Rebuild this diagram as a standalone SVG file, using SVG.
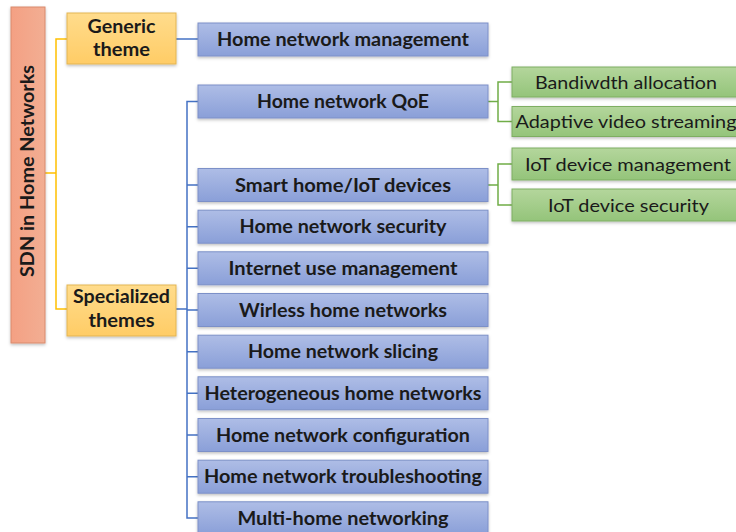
<svg xmlns="http://www.w3.org/2000/svg" width="736" height="532" viewBox="0 0 736 532">
<defs>
<linearGradient id="gBlue" x1="0" y1="0" x2="0" y2="1"><stop offset="0" stop-color="#AEBDE6"/><stop offset="1" stop-color="#8A9FD8"/></linearGradient>
<linearGradient id="gYellow" x1="0" y1="0" x2="0" y2="1"><stop offset="0" stop-color="#FFDC8C"/><stop offset="1" stop-color="#FFCC66"/></linearGradient>
<linearGradient id="gGreen" x1="0" y1="0" x2="0" y2="1"><stop offset="0" stop-color="#B4D69C"/><stop offset="1" stop-color="#94C47A"/></linearGradient>
<linearGradient id="gRoot" x1="0" y1="0" x2="1" y2="0"><stop offset="0" stop-color="#F4A083"/><stop offset="1" stop-color="#F2AE93"/></linearGradient>
<filter id="sh" x="-10%" y="-20%" width="120%" height="150%"><feDropShadow dx="0" dy="1.5" stdDeviation="1.5" flood-color="#000" flood-opacity="0.25"/></filter>
</defs>
<style>
.blue{fill:url(#gBlue);stroke:#7C90C8;stroke-width:1;filter:url(#sh)}
.yel{fill:url(#gYellow);stroke:#E3B552;stroke-width:1;filter:url(#sh)}
.grn{fill:url(#gGreen);stroke:#7EAE62;stroke-width:1;filter:url(#sh)}
.root{fill:url(#gRoot);stroke:#D98A6C;stroke-width:1;filter:url(#sh)}
.tb{font-family:Lato,"Liberation Sans",sans-serif;font-weight:bold;font-size:18px;fill:#1A1A1A;text-anchor:middle}
.tr{font-family:Lato,"Liberation Sans",sans-serif;font-size:18px;fill:#1A1A1A;text-anchor:middle}
.cy{fill:none;stroke:#FFC000;stroke-width:1.5}
.cb{fill:none;stroke:#4472C4;stroke-width:1.5}
.cg{fill:none;stroke:#70AD47;stroke-width:1.5}
</style>
<g id="connectors">
<path class="cy" d="M45 173H56M67 39H56V309H67"/>
<path class="cb" d="M176 39H198"/>
<path class="cb" d="M176 309H187M198 101.5H187V518H198M187 185H198M187 226.7H198M187 268.3H198M187 310H198M187 351.7H198M187 393.3H198M187 435H198M187 476.7H198"/>
<path class="cg" d="M488 101.5H498M512 82H498V121.5H512"/>
<path class="cg" d="M488 185H498M512 164H498V205H512"/>
</g>
<g id="root"><rect class="root" x="11" y="7" width="34" height="336"/>
<text class="tb" transform="translate(34,171) rotate(-90)" textLength="212" lengthAdjust="spacingAndGlyphs">SDN in Home Networks</text></g>
<g id="generic"><rect class="yel" x="67" y="13" width="109" height="51"/>
<text class="tb" x="121.5" y="33" textLength="68" lengthAdjust="spacingAndGlyphs">Generic</text>
<text class="tb" x="121.5" y="56" textLength="57" lengthAdjust="spacingAndGlyphs">theme</text></g>
<g id="specialized"><rect class="yel" x="67" y="285" width="109" height="51"/>
<text class="tb" x="121.5" y="303" textLength="97" lengthAdjust="spacingAndGlyphs">Specialized</text>
<text class="tb" x="121.5" y="327" textLength="66" lengthAdjust="spacingAndGlyphs">themes</text></g>
<g id="hnm"><rect class="blue" x="198" y="23" width="290" height="33"/>
<text class="tb" x="343" y="45.5" textLength="252" lengthAdjust="spacingAndGlyphs">Home network management</text></g>
<g id="qoe"><rect class="blue" x="198" y="85" width="290" height="33"/>
<text class="tb" x="343" y="108" textLength="172" lengthAdjust="spacingAndGlyphs">Home network QoE</text></g>
<g id="smart"><rect class="blue" x="198" y="168.5" width="290" height="33"/>
<text class="tb" x="343" y="191.5" textLength="216" lengthAdjust="spacingAndGlyphs">Smart home/IoT devices</text></g>
<g id="security"><rect class="blue" x="198" y="210.2" width="290" height="33"/>
<text class="tb" x="343" y="233.2" textLength="207" lengthAdjust="spacingAndGlyphs">Home network security</text></g>
<g id="internet"><rect class="blue" x="198" y="251.8" width="290" height="33"/>
<text class="tb" x="343" y="274.8" textLength="229" lengthAdjust="spacingAndGlyphs">Internet use management</text></g>
<g id="wireless"><rect class="blue" x="198" y="293.5" width="290" height="33"/>
<text class="tb" x="343" y="316.5" textLength="208" lengthAdjust="spacingAndGlyphs">Wirless home networks</text></g>
<g id="slicing"><rect class="blue" x="198" y="335.2" width="290" height="33"/>
<text class="tb" x="343" y="358.2" textLength="190" lengthAdjust="spacingAndGlyphs">Home network slicing</text></g>
<g id="hetero"><rect class="blue" x="198" y="376.8" width="290" height="33"/>
<text class="tb" x="343" y="399.8" textLength="277" lengthAdjust="spacingAndGlyphs">Heterogeneous home networks</text></g>
<g id="config"><rect class="blue" x="198" y="418.5" width="290" height="33"/>
<text class="tb" x="343" y="441.5" textLength="254" lengthAdjust="spacingAndGlyphs">Home network configuration</text></g>
<g id="trouble"><rect class="blue" x="198" y="460.2" width="290" height="33"/>
<text class="tb" x="343" y="483.2" textLength="278" lengthAdjust="spacingAndGlyphs">Home network troubleshooting</text></g>
<g id="multihome"><rect class="blue" x="198" y="501.8" width="290" height="33"/>
<text class="tb" x="343" y="524.8" textLength="211" lengthAdjust="spacingAndGlyphs">Multi-home networking</text></g>
<g id="bandwidth"><rect class="grn" x="512" y="67" width="232" height="30"/>
<text class="tr" x="626" y="88.5" textLength="182" lengthAdjust="spacingAndGlyphs">Bandiwdth allocation</text></g>
<g id="adaptive"><rect class="grn" x="512" y="106.5" width="232" height="30"/>
<text class="tr" x="626" y="128" textLength="221" lengthAdjust="spacingAndGlyphs">Adaptive video streaming</text></g>
<g id="iotmgmt"><rect class="grn" x="512" y="148" width="232" height="32"/>
<text class="tr" x="628" y="170.5" textLength="206" lengthAdjust="spacingAndGlyphs">IoT device management</text></g>
<g id="iotsec"><rect class="grn" x="512" y="189" width="232" height="32"/>
<text class="tr" x="628.5" y="211.5" textLength="161" lengthAdjust="spacingAndGlyphs">IoT device security</text></g>
</svg>
